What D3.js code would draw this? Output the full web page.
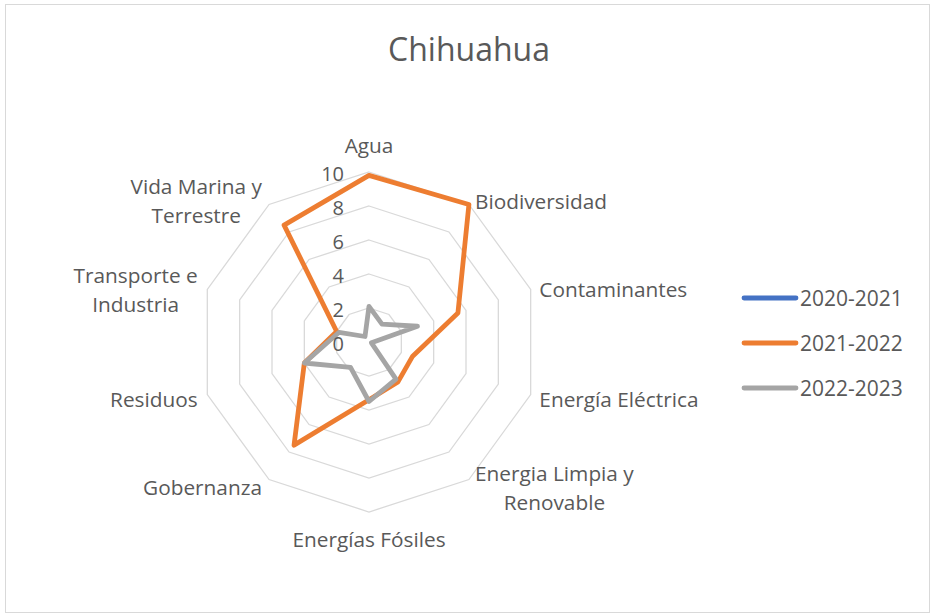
<!DOCTYPE html>
<html>
<head>
<meta charset="utf-8">
<script src="https://cdn.jsdelivr.net/npm/d3@7"></script>
<style>
  body { margin: 0; background: #fff; }
  text { font-family: "Open Sans", "Noto Sans", sans-serif; fill: #595959; }
</style>
</head>
<body>
<script>
// Categories (clockwise from the top) and the three seasons
const categories = [
  ['Agua'],
  ['Biodiversidad'],
  ['Contaminantes'],
  ['Energía Eléctrica'],
  ['Energia Limpia y', 'Renovable'],
  ['Energías Fósiles'],
  ['Gobernanza'],
  ['Residuos'],
  ['Transporte e', 'Industria'],
  ['Vida Marina y', 'Terrestre']
];
const seriesNames = ['2020-2021', '2021-2022', '2022-2023'];
const values2020 = [0, 0, 0, 0, 0, 0, 0, 0, 0, 0];
const values2021 = [9.8, 10, 5.5, 2.7, 2.9, 3.4, 7.5, 4.0, 2.0, 8.5];
const values2022 = [2.1, 1.3, 3.0, 0.15, 2.7, 3.5, 1.85, 4.0, 1.85, 0.4];
const ticks = [0, 2, 4, 6, 8, 10];
const colors = ['#4472C4', '#ED7D31', '#A5A5A5'];

const width = 934, height = 615;
const cx = 369, cy = 342, R = 170;

const svg = d3.select('body').append('svg')
  .attr('width', width)
  .attr('height', height);

// chart border
svg.append('rect')
  .attr('x', 5.5).attr('y', 4.5)
  .attr('width', 924).attr('height', 608)
  .attr('fill', '#fff')
  .attr('stroke', '#D9D9D9');

svg.append('text')
  .attr('x', 469).attr('y', 48)
  .attr('text-anchor', 'middle')
  .attr('dominant-baseline', 'central')
  .style('font-size', '32px')
  .text('Chihuahua');

const r = d3.scaleLinear().domain([0, 10]).range([0, R]);
const angle = i => i * 2 * Math.PI / categories.length;

const g = svg.append('g').attr('transform', `translate(${cx},${cy})`);

// rings
const ring = d3.lineRadial()
  .angle((d, i) => angle(i))
  .radius(d => r(d))
  .curve(d3.curveLinearClosed);

g.selectAll('path.ring')
  .data(ticks.filter(t => t > 0))
  .enter().append('path')
  .attr('class', 'ring')
  .attr('d', t => ring(categories.map(() => t)))
  .attr('fill', 'none')
  .attr('stroke', '#D9D9D9')
  .attr('stroke-width', 1.3);

// series
const series = [values2020, values2021, values2022];
g.selectAll('path.series')
  .data(series)
  .enter().append('path')
  .attr('class', 'series')
  .attr('d', d => ring(d))
  .attr('fill', 'none')
  .attr('stroke', (d, i) => colors[i])
  .attr('stroke-width', 4.8)
  .attr('stroke-linejoin', 'round');

// tick labels
g.selectAll('text.tick')
  .data(ticks)
  .enter().append('text')
  .attr('class', 'tick')
  .attr('x', -25)
  .attr('y', t => -r(t) + 1)
  .attr('text-anchor', 'end')
  .attr('dominant-baseline', 'central')
  .style('font-size', '20px')
  .text(t => t);

// category labels
const lineH = 29;
categories.forEach((lines, i) => {
  const a = angle(i);
  const s = Math.sin(a), c = Math.cos(a);
  const px = (R + 7) * s, py = -(R + 7) * c;
  const t = g.append('text').style('font-size', '20.8px');
  lines.forEach(ln => {
    t.append('tspan').text(ln);
  });
  const spans = t.selectAll('tspan');
  const widest = d3.max(spans.nodes(), n => n.getComputedTextLength());
  let mx;
  let my = py + 2;
  if (Math.abs(s) < 0.1) {
    mx = px;
    my = py - c * 20;
  } else if (s > 0) {
    mx = px + 2 + widest / 2;
  } else {
    mx = px - 3 - widest / 2;
  }
  const y0 = my - (lines.length - 1) * lineH / 2;
  spans
    .attr('x', mx)
    .attr('y', (d, k) => y0 + k * lineH)
    .attr('text-anchor', 'middle')
    .attr('dominant-baseline', 'central');
});

// legend
const legend = svg.append('g').attr('transform', 'translate(742,298)');
seriesNames.forEach((name, i) => {
  const row = legend.append('g').attr('transform', `translate(0,${i * 45})`);
  row.append('line')
    .attr('x1', 2).attr('x2', 54)
    .attr('stroke', colors[i])
    .attr('stroke-width', 4.8)
    .attr('stroke-linecap', 'round');
  row.append('text')
    .attr('x', 58)
    .attr('dominant-baseline', 'central')
    .style('font-size', '21px')
    .text(name);
});
</script>
</body>
</html>
